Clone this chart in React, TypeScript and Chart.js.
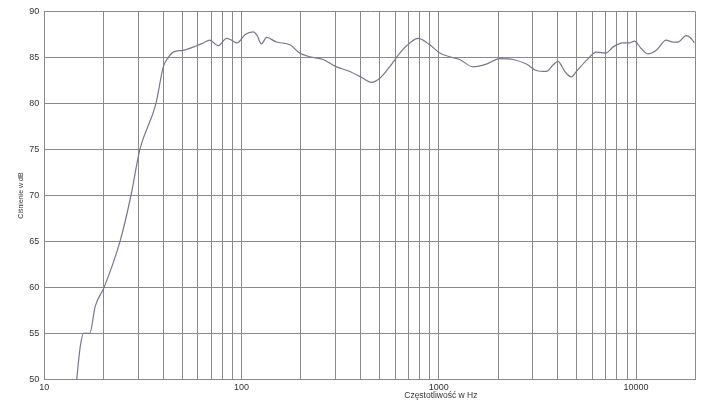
import React, { useEffect, useRef } from "react";
import { Chart, registerables } from "chart.js";

Chart.register(...registerables);

const frequencies: number[] = [
  14.6, 15.2, 15.8, 17.0, 18.1, 20.1, 24.2, 27.5, 30.5, 36.8, 40.1, 42.5, 45, 50.6,
  59.2, 64, 69, 76, 84, 89, 95, 104, 114.6, 120, 126, 134, 150, 176, 197, 222, 259, 303,
  354, 413, 456, 502, 563, 634, 712, 785, 899, 1011, 1136, 1276, 1490, 1742, 2037, 2378,
  2778, 3120, 3505, 3790, 4020, 4347, 4697, 4980, 5597, 6286, 7000, 7690, 8575, 9258,
  9810, 10610, 11470, 12650, 14220, 15360, 16290, 17950, 18800, 19770,
];

const levels: number[] = [
  50, 53.5, 55.0, 55.0, 57.9, 60.0, 65.0, 70.0, 75.0, 80.0, 84.0, 85.0, 85.6, 85.8,
  86.3, 86.6, 86.9, 86.3, 87.1, 86.9, 86.6, 87.5, 87.8, 87.4, 86.5, 87.2, 86.7, 86.4, 85.5,
  85.1, 84.8, 84.0, 83.5, 82.75, 82.3, 82.75, 84.0, 85.5, 86.6, 87.1, 86.4, 85.5, 85.1,
  84.8, 84.0, 84.3, 84.9, 84.8, 84.3, 83.6, 83.5, 84.2, 84.6, 83.5, 82.9, 83.5, 84.7,
  85.6, 85.5, 86.2, 86.6, 86.6, 86.8, 86.0, 85.4, 85.8, 86.9, 86.7, 86.7, 87.4, 87.2, 86.6,
];

const xGridTicks: number[] = [
  10, 20, 30, 40, 50, 60, 70, 80, 90, 100, 200, 300, 400, 500, 600, 700, 800, 900, 1000,
  2000, 3000, 4000, 5000, 6000, 7000, 8000, 9000, 10000, 20000,
];
const xLabelTicks: number[] = [10, 100, 1000, 10000];
const yTicks: number[] = [50, 55, 60, 65, 70, 75, 80, 85, 90];

const xTitle = "Częstotliwość w Hz";
const yTitle = "Ciśnienie w dB";

const FONT = "'Liberation Sans', Arial, sans-serif";

const xTitlePlugin = {
  id: "xTitlePlugin",
  afterDraw(chart: any) {
    const ctx = chart.ctx;
    const xs = chart.scales.x;
    const cx = xs.getPixelForValue(1000) + 2;
    ctx.save();
    ctx.font = `8.5px ${FONT}`;
    ctx.fillStyle = "#333";
    ctx.textAlign = "center";
    ctx.textBaseline = "middle";
    ctx.fillText(xTitle, cx, chart.chartArea.bottom + 16);
    ctx.restore();
  },
};

export default function App() {
  const ref = useRef<HTMLCanvasElement | null>(null);
  useEffect(() => {
    if (!ref.current) return;
    const data = frequencies.map((f, i) => ({ x: f, y: levels[i] }));
    const chart = new Chart(ref.current, {
      type: "scatter",
      data: {
        datasets: [
          {
            data,
            showLine: true,
            borderColor: "#77778c",
            borderWidth: 1.2,
            pointRadius: 0,
            cubicInterpolationMode: "monotone",
            fill: false,
          },
        ],
      },
      options: {
        animation: false,
        responsive: false,
        maintainAspectRatio: false,
        layout: { padding: { left: 0, right: 9.5, top: 11.7, bottom: 0 } },
        plugins: { legend: { display: false }, tooltip: { enabled: false } },
        scales: {
          x: {
            type: "logarithmic",
            min: 10,
            max: 20000,
            afterBuildTicks: (s: any) => {
              s.ticks = xGridTicks.map((v) => ({ value: v }));
            },
            afterFit: (s: any) => {
              s.height = 31.7;
            },
            ticks: {
              autoSkip: false,
              maxRotation: 0,
              padding: 3,
              color: "#333",
              font: { size: 9, family: FONT },
              callback: (v: any) => (xLabelTicks.includes(Number(v)) ? String(v) : ""),
            },
            grid: { color: "#8a8a8a", lineWidth: 1, drawTicks: false },
            border: { color: "#8a8a8a" },
          },
          y: {
            min: 50,
            max: 90,
            afterBuildTicks: (s: any) => {
              s.ticks = yTicks.map((v) => ({ value: v }));
            },
            afterFit: (s: any) => {
              s.width = 44.3;
            },
            ticks: {
              padding: 5,
              color: "#333",
              font: { size: 9, family: FONT },
            },
            grid: { color: "#8a8a8a", lineWidth: 1, drawTicks: false },
            border: { color: "#8a8a8a" },
            title: {
              display: true,
              text: yTitle,
              color: "#333",
              font: { size: 7, family: FONT },
              padding: { top: 16.6, bottom: 0 },
            },
          },
        },
      },
      plugins: [xTitlePlugin],
    });
    return () => chart.destroy();
  }, []);
  return (
    <div style={{ position: "fixed", left: 0, top: 0, width: 705, height: 411, background: "#fff" }}>
      <canvas ref={ref} width={705} height={411} style={{ width: 705, height: 411, display: "block" }} />
    </div>
  );
}
